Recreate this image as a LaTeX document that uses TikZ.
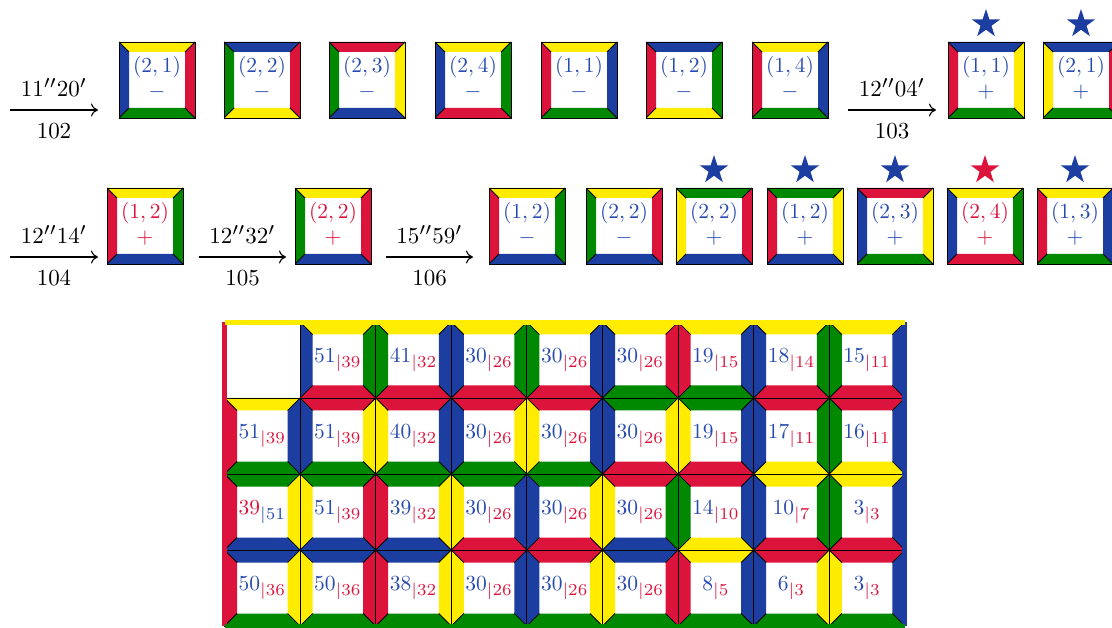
\RequirePackage{fix-cm}
\documentclass[tikz,border=0pt]{standalone}
\usetikzlibrary{shapes.geometric,arrows.meta,calc}
\DeclareMathSizes{10}{10}{7.8}{6}
\definecolor{cblue}{RGB}{28,62,160}
\definecolor{ctext}{RGB}{40,75,175}
\definecolor{cred}{RGB}{220,20,60}
\definecolor{cgreen}{RGB}{0,136,0}
\definecolor{cyellow}{RGB}{255,236,0}
\newcommand{\lowstrut}{\rule[-6.6pt]{0pt}{6.6pt}}
\newcommand{\T}[2]{\scalebox{2.15}{$#1$}\\\scalebox{2.15}{$#2$}\lowstrut}
\newcommand{\G}[2]{\scalebox{2.15}{$\color{ctext}#1_{\color{cred}|#2}$}}
\newcommand{\Gr}[2]{\scalebox{2.15}{$\color{cred}#1_{\color{ctext}|#2}$}}
\newcommand{\A}[1]{\scalebox{2.3}{$#1$}}
\tikzset{
  tile depth/.store in=\tdepth, tile depth=10pt,
  tile/.style n args={4}{
    minimum width=76pt, minimum height=76pt, inner sep=0pt, align=center,
    draw=black, line width=0.9pt, text=ctext,
    font=\fontsize{10}{24.5}\selectfont,
    path picture={
      \path (path picture bounding box.north west) coordinate (pNW)
            (path picture bounding box.north east) coordinate (pNE)
            (path picture bounding box.south east) coordinate (pSE)
            (path picture bounding box.south west) coordinate (pSW);
      \path (pNW) ++(\tdepth,-\tdepth) coordinate (qNW);
      \path (pNE) ++(-\tdepth,-\tdepth) coordinate (qNE);
      \path (pSE) ++(-\tdepth,\tdepth) coordinate (qSE);
      \path (pSW) ++(\tdepth,\tdepth) coordinate (qSW);
      \fill[#1] (pNW) -- (pNE) -- (qNE) -- (qNW) -- cycle;
      \fill[#2] (pNE) -- (pSE) -- (qSE) -- (qNE) -- cycle;
      \fill[#3] (pSE) -- (pSW) -- (qSW) -- (qSE) -- cycle;
      \fill[#4] (pSW) -- (pNW) -- (qNW) -- (qSW) -- cycle;
      \draw[black, line width=0.8pt] (pNW) -- (qNW) (pNE) -- (qNE) (pSE) -- (qSE) (pSW) -- (qSW);
    }
  },
  gtile/.style={minimum width=75.6pt, minimum height=76pt, font=\fontsize{10}{12}\selectfont},
  starmark/.style={star, star points=5, star point ratio=2.618, fill=#1, draw=none, minimum size=30pt, inner sep=0pt},
  arr/.style={line width=1.1pt, -{Computer Modern Rightarrow[length=7pt, width=13pt, line width=1.1pt]}},
  labA/.style={above=12.7pt, inner sep=0pt, font=\fontsize{10}{12}\selectfont},
  labB/.style={below=13.3pt, inner sep=0pt, font=\fontsize{10}{12}\selectfont},
}
\begin{document}
\begin{tikzpicture}[x=1pt,y=-1pt]
\useasboundingbox (0,0) rectangle (1112,628);
% ---------- row 1 ----------
\coordinate (a1s) at (10,110); \coordinate (a1e) at (98,110);
\draw[arr] (a1s) -- node[labA] (l1a) {\A{11''20'}} node[labB] (l1b) {\A{102}} (a1e);
\node[tile={cyellow}{cred}{cgreen}{cblue}] (t1) at (157,80) {\T{(2,1)}{-}};
\node[tile={cblue}{cred}{cyellow}{cgreen}] (t2) at (262,80) {\T{(2,2)}{-}};
\node[tile={cred}{cyellow}{cblue}{cgreen}] (t3) at (367,80) {\T{(2,3)}{-}};
\node[tile={cyellow}{cgreen}{cred}{cblue}] (t4) at (473,80) {\T{(2,4)}{-}};
\node[tile={cyellow}{cblue}{cgreen}{cred}] (t5) at (579,80) {\T{(1,1)}{-}};
\node[tile={cblue}{cgreen}{cyellow}{cred}] (t6) at (684,80) {\T{(1,2)}{-}};
\node[tile={cyellow}{cblue}{cgreen}{cred}] (t7) at (790,80) {\T{(1,4)}{-}};
\coordinate (a2s) at (848,110); \coordinate (a2e) at (936,110);
\draw[arr] (a2s) -- node[labA] (l2a) {\A{12''04'}} node[labB] (l2b) {\A{103}} (a2e);
\node[tile={cblue}{cyellow}{cgreen}{cred}] (t8) at (986,80) {\T{(1,1)}{+}};
\node[tile={cblue}{cred}{cgreen}{cyellow}] (t9) at (1081,80) {\T{(2,1)}{+}};
\node[starmark=cblue] (s1) at (986,24) {};
\node[starmark=cblue] (s2) at (1081,24) {};
% ---------- row 2 ----------
\coordinate (a3s) at (10,257); \coordinate (a3e) at (98,257);
\draw[arr] (a3s) -- node[labA] (l3a) {\A{12''14'}} node[labB] (l3b) {\A{104}} (a3e);
\node[tile={cyellow}{cgreen}{cblue}{cred}, text=cred] (u1) at (145,226) {\T{(1,2)}{+}};
\coordinate (a4s) at (199,257); \coordinate (a4e) at (286,257);
\draw[arr] (a4s) -- node[labA] (l4a) {\A{12''32'}} node[labB] (l4b) {\A{105}} (a4e);
\node[tile={cyellow}{cred}{cblue}{cgreen}, text=cred] (u2) at (333,226) {\T{(2,2)}{+}};
\coordinate (a5s) at (386,257); \coordinate (a5e) at (473,257);
\draw[arr] (a5s) -- node[labA] (l5a) {\A{15''59'}} node[labB] (l5b) {\A{106}} (a5e);
\node[tile={cyellow}{cgreen}{cblue}{cred}] (u3) at (527,226) {\T{(1,2)}{-}};
\node[tile={cyellow}{cred}{cblue}{cgreen}] (u4) at (624,226) {\T{(2,2)}{-}};
\node[tile={cgreen}{cred}{cblue}{cyellow}] (u5) at (714,226) {\T{(2,2)}{+}};
\node[tile={cgreen}{cyellow}{cblue}{cred}] (u6) at (805,226) {\T{(1,2)}{+}};
\node[tile={cred}{cyellow}{cgreen}{cblue}] (u7) at (895,226) {\T{(2,3)}{+}};
\node[tile={cyellow}{cgreen}{cred}{cblue}, text=cred] (u8) at (985,226) {\T{(2,4)}{+}};
\node[tile={cyellow}{cblue}{cgreen}{cred}] (u9) at (1075,226) {\T{(1,3)}{+}};
\node[starmark=cblue] (s3) at (714,170) {};
\node[starmark=cblue] (s4) at (805,170) {};
\node[starmark=cblue] (s5) at (895,170) {};
\node[starmark=cred]  (s6) at (985,170) {};
\node[starmark=cblue] (s7) at (1075,170) {};
% ---------- grid ----------
\begin{scope}[tile depth=12.5pt]
% row 1 (y=360)
\node[tile={cyellow}{cgreen}{cred}{cblue},gtile] (g12) at (337.9,360) {\G{51}{39}};
\node[tile={cyellow}{cblue}{cred}{cgreen},gtile] (g13) at (413.5,360) {\G{41}{32}};
\node[tile={cyellow}{cgreen}{cred}{cblue},gtile] (g14) at (489.1,360) {\G{30}{26}};
\node[tile={cyellow}{cblue}{cred}{cgreen},gtile] (g15) at (564.7,360) {\G{30}{26}};
\node[tile={cyellow}{cred}{cgreen}{cblue},gtile] (g16) at (640.3,360) {\G{30}{26}};
\node[tile={cyellow}{cblue}{cgreen}{cred},gtile] (g17) at (715.9,360) {\G{19}{15}};
\node[tile={cyellow}{cgreen}{cred}{cblue},gtile] (g18) at (791.5,360) {\G{18}{14}};
\node[tile={cyellow}{cblue}{cred}{cgreen},gtile] (g19) at (867.1,360) {\G{15}{11}};
% row 2 (y=436)
\node[tile={cyellow}{cblue}{cgreen}{cred},gtile] (g21) at (262.3,436) {\G{51}{39}};
\node[tile={cred}{cyellow}{cgreen}{cblue},gtile] (g22) at (337.9,436) {\G{51}{39}};
\node[tile={cred}{cblue}{cgreen}{cyellow},gtile] (g23) at (413.5,436) {\G{40}{32}};
\node[tile={cred}{cyellow}{cgreen}{cblue},gtile] (g24) at (489.1,436) {\G{30}{26}};
\node[tile={cred}{cblue}{cgreen}{cyellow},gtile] (g25) at (564.7,436) {\G{30}{26}};
\node[tile={cgreen}{cyellow}{cred}{cblue},gtile] (g26) at (640.3,436) {\G{30}{26}};
\node[tile={cgreen}{cblue}{cred}{cyellow},gtile] (g27) at (715.9,436) {\G{19}{15}};
\node[tile={cred}{cgreen}{cyellow}{cblue},gtile] (g28) at (791.5,436) {\G{17}{11}};
\node[tile={cred}{cblue}{cyellow}{cgreen},gtile] (g29) at (867.1,436) {\G{16}{11}};
% row 3 (y=512)
\node[tile={cgreen}{cyellow}{cblue}{cred},gtile] (g31) at (262.3,512) {\Gr{39}{51}};
\node[tile={cgreen}{cred}{cblue}{cyellow},gtile] (g32) at (337.9,512) {\G{51}{39}};
\node[tile={cgreen}{cyellow}{cblue}{cred},gtile] (g33) at (413.5,512) {\G{39}{32}};
\node[tile={cgreen}{cblue}{cred}{cyellow},gtile] (g34) at (489.1,512) {\G{30}{26}};
\node[tile={cgreen}{cyellow}{cred}{cblue},gtile] (g35) at (564.7,512) {\G{30}{26}};
\node[tile={cred}{cgreen}{cblue}{cyellow},gtile] (g36) at (640.3,512) {\G{30}{26}};
\node[tile={cred}{cblue}{cyellow}{cgreen},gtile] (g37) at (715.9,512) {\G{14}{10}};
\node[tile={cyellow}{cgreen}{cred}{cblue},gtile] (g38) at (791.5,512) {\G{10}{7}};
\node[tile={cyellow}{cblue}{cred}{cgreen},gtile] (g39) at (867.1,512) {\G{3}{3}};
% row 4 (y=588)
\node[tile={cblue}{cyellow}{cgreen}{cred},gtile] (g41) at (262.3,588) {\G{50}{36}};
\node[tile={cblue}{cred}{cgreen}{cyellow},gtile] (g42) at (337.9,588) {\G{50}{36}};
\node[tile={cblue}{cyellow}{cgreen}{cred},gtile] (g43) at (413.5,588) {\G{38}{32}};
\node[tile={cred}{cblue}{cgreen}{cyellow},gtile] (g44) at (489.1,588) {\G{30}{26}};
\node[tile={cred}{cyellow}{cgreen}{cblue},gtile] (g45) at (564.7,588) {\G{30}{26}};
\node[tile={cblue}{cred}{cgreen}{cyellow},gtile] (g46) at (640.3,588) {\G{30}{26}};
\node[tile={cyellow}{cblue}{cgreen}{cred},gtile] (g47) at (715.9,588) {\G{8}{5}};
\node[tile={cred}{cyellow}{cgreen}{cblue},gtile] (g48) at (791.5,588) {\G{6}{3}};
\node[tile={cred}{cblue}{cgreen}{cyellow},gtile] (g49) at (867.1,588) {\G{3}{3}};
\end{scope}
% frame strips
\coordinate (fNW) at (224.5,322.5); \coordinate (fNE) at (904.9,322.5);
\coordinate (fSW) at (224.5,626.2); \coordinate (fSE) at (904.9,626.2);
\draw[cred, line width=5pt] (fNW) -- (fSW);
\draw[cblue, line width=5pt] (fNE) -- (fSE);
\draw[cgreen, line width=5pt] (fSW) -- (fSE);
\draw[cyellow, line width=5pt] (fNW) -- (fNE);
\end{tikzpicture}
\end{document}
